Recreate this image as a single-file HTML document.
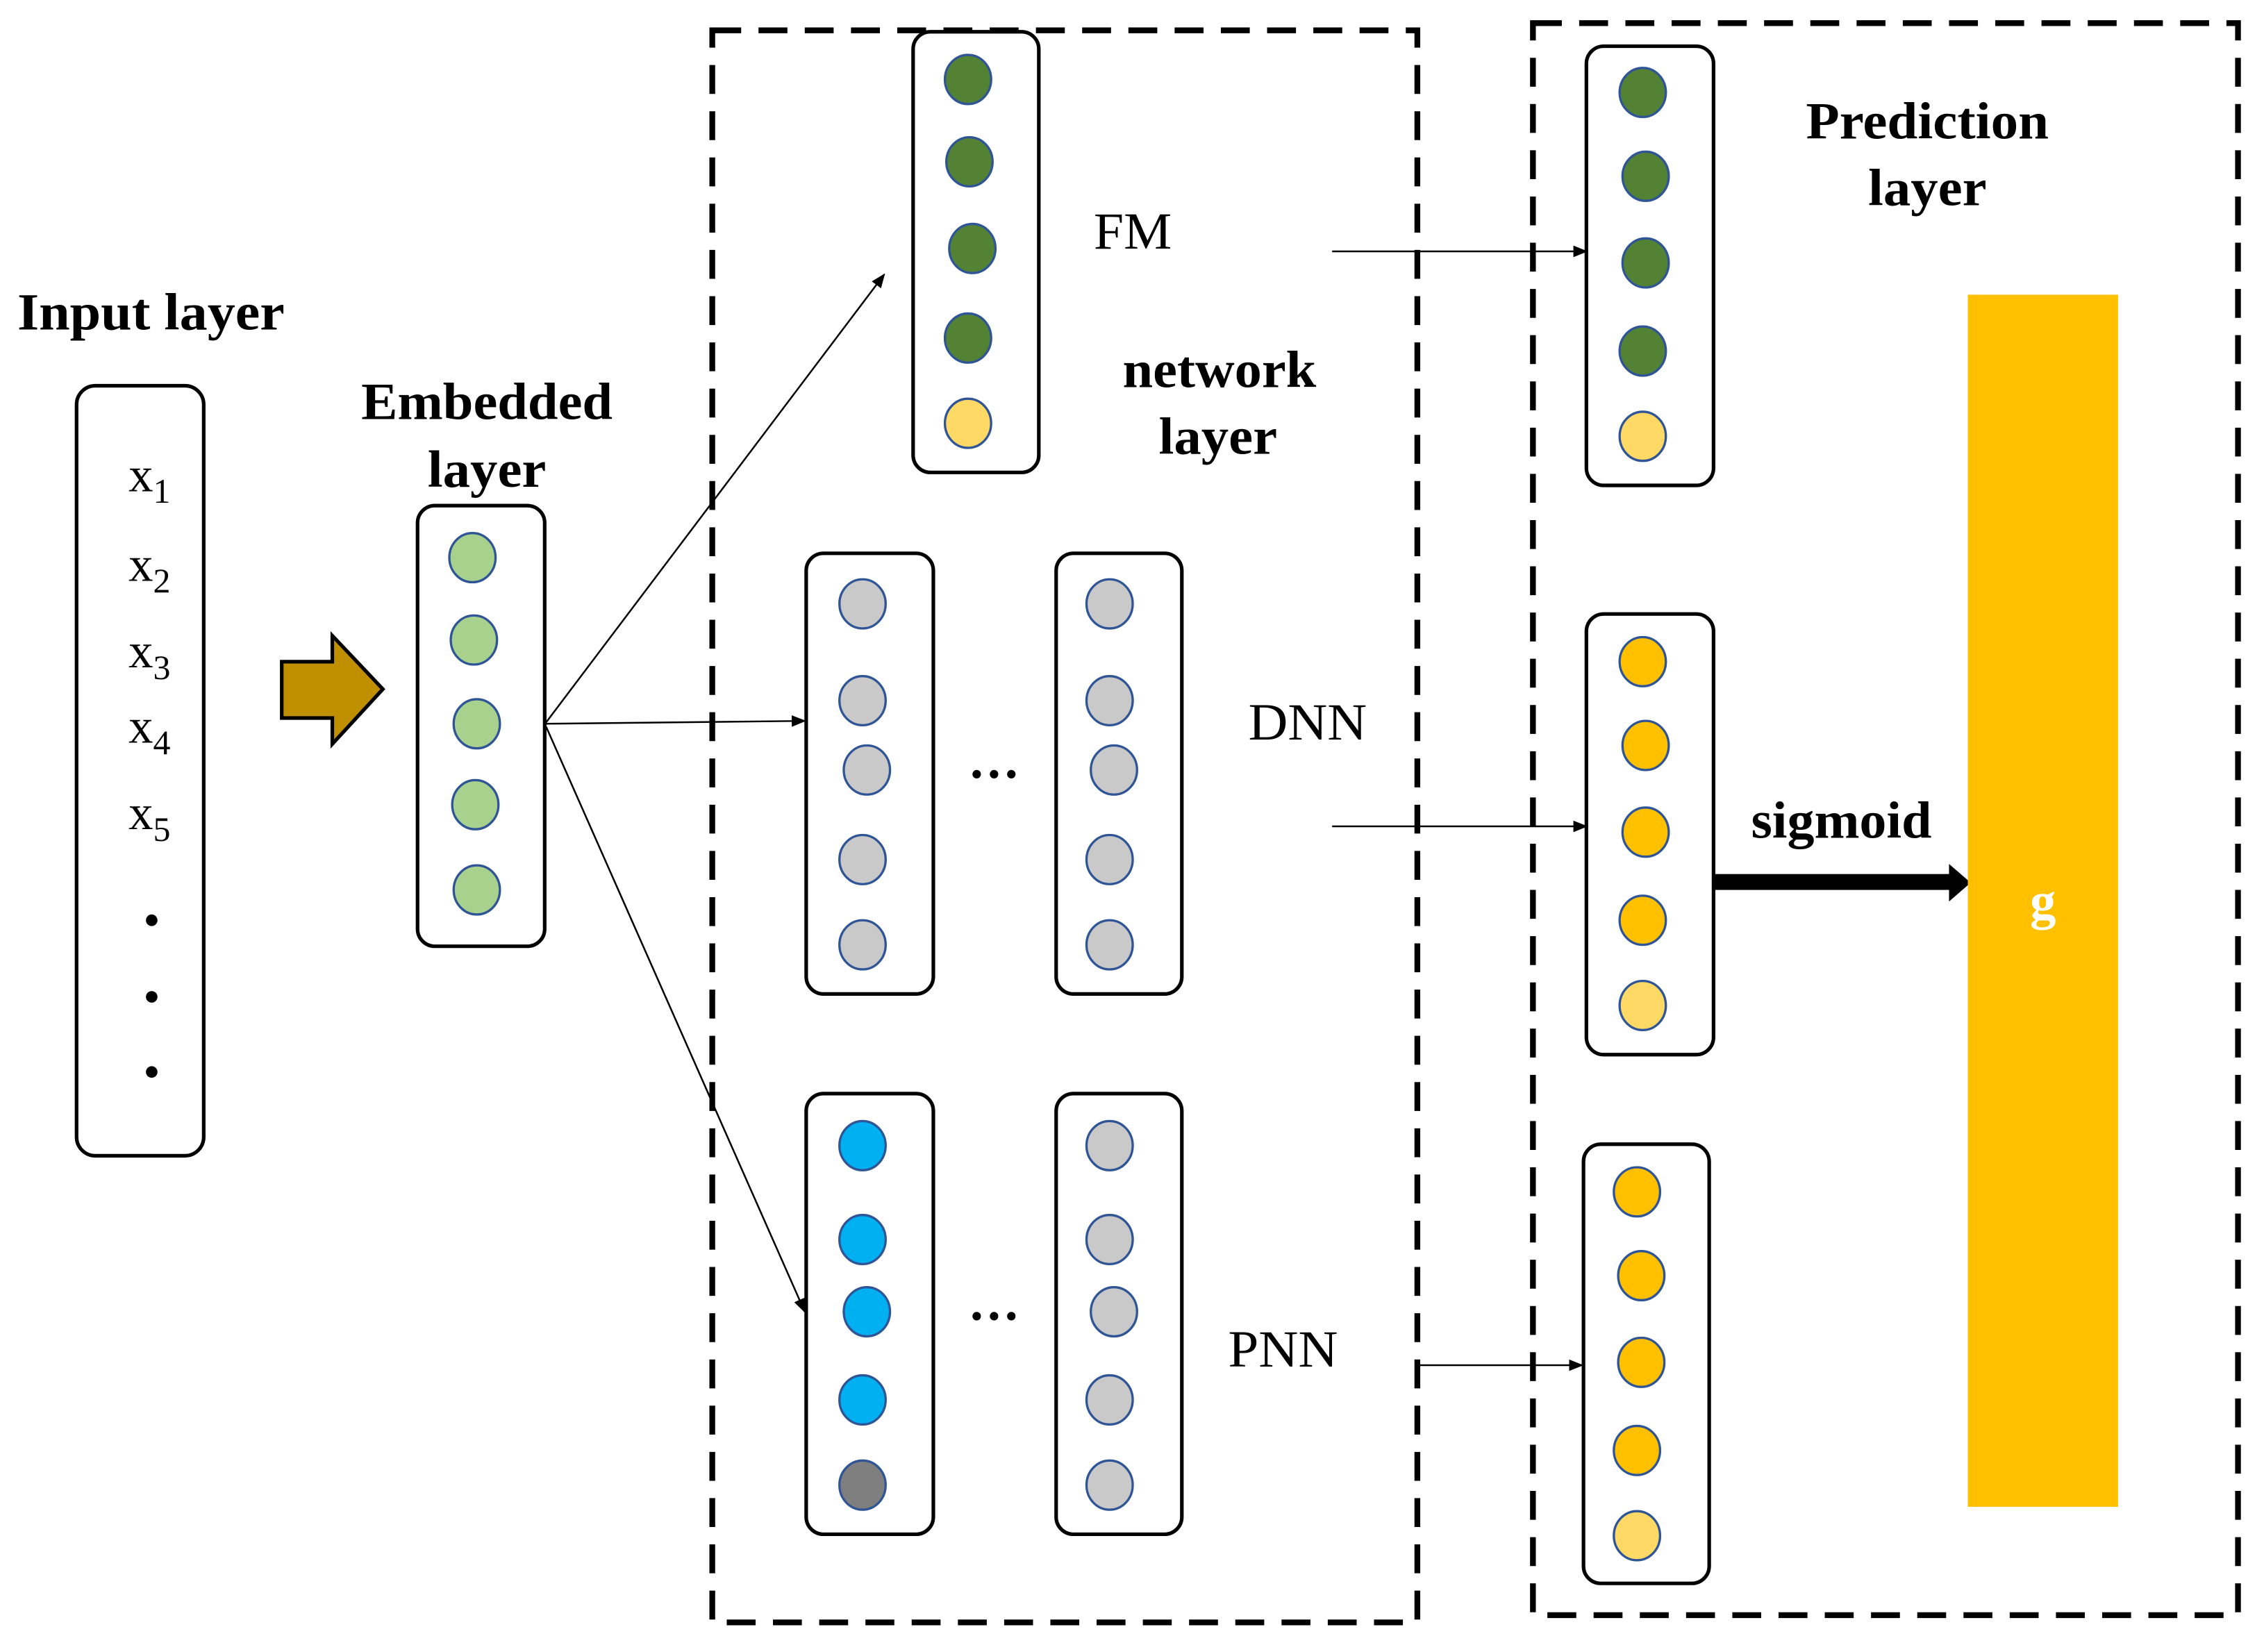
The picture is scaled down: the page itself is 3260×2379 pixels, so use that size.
<!DOCTYPE html>
<html><head><meta charset="utf-8"><style>
html,body{margin:0;padding:0;background:#fff;}
svg{display:block;}
text{font-family:"Liberation Serif",serif;fill:#000;}
.b{font-weight:bold;}
</style></head><body>
<svg width="3260" height="2379" viewBox="0 0 1567 1143.5" preserveAspectRatio="none" xmlns="http://www.w3.org/2000/svg">
<defs>
<marker id="ah" markerWidth="10" markerHeight="8" refX="9" refY="4" orient="auto" markerUnits="userSpaceOnUse"><path d="M0,0 L10,4 L0,8 z" fill="#000"/></marker>
</defs>
<rect width="1567" height="1143.5" fill="#fff"/>
<rect x="493" y="21" width="488" height="1102" fill="none" stroke="#000" stroke-width="4" stroke-dasharray="20,12"/>
<rect x="1061" y="16" width="488" height="1102" fill="none" stroke="#000" stroke-width="4" stroke-dasharray="20,12"/>

<text x="12" y="228" class="b" font-size="36" textLength="185" lengthAdjust="spacingAndGlyphs">Input layer</text>
<rect x="53" y="267" width="88" height="533" rx="13" fill="none" stroke="#000" stroke-width="2.5"/>
<g font-size="34">
<text x="89" y="340">x<tspan font-size="24" dy="8">1</tspan></text>
<text x="89" y="402">x<tspan font-size="24" dy="8">2</tspan></text>
<text x="89" y="462">x<tspan font-size="24" dy="8">3</tspan></text>
<text x="89" y="514">x<tspan font-size="24" dy="8">4</tspan></text>
<text x="89" y="574">x<tspan font-size="24" dy="8">5</tspan></text>
</g>
<circle cx="105" cy="637" r="4" fill="#000"/>
<circle cx="105" cy="690" r="4" fill="#000"/>
<circle cx="105" cy="742" r="4" fill="#000"/>

<path d="M195,458 L230,458 L230,440 L265,477 L230,515 L230,497 L195,497 Z" fill="#BF8F00" stroke="#000" stroke-width="2.5"/>

<text x="337" y="290" class="b" font-size="36" text-anchor="middle" textLength="174" lengthAdjust="spacingAndGlyphs">Embedded</text>
<text x="337" y="337" class="b" font-size="36" text-anchor="middle" textLength="82" lengthAdjust="spacingAndGlyphs">layer</text>
<rect x="289" y="350" width="88" height="305" rx="12" fill="none" stroke="#000" stroke-width="2.5"/>
<g fill="#A9D18E" stroke="#2F5597" stroke-width="1.6">
<ellipse cx="327" cy="386" rx="16" ry="17"/>
<ellipse cx="328" cy="443" rx="16" ry="17"/>
<ellipse cx="330" cy="501" rx="16" ry="17"/>
<ellipse cx="329" cy="557" rx="16" ry="17"/>
<ellipse cx="330" cy="616" rx="16" ry="17"/>
</g>

<g stroke="#000" stroke-width="1.2" fill="none">
<line x1="378" y1="500" x2="612" y2="190" marker-end="url(#ah)"/>
<line x1="378" y1="501" x2="557" y2="499" marker-end="url(#ah)"/>
<line x1="378" y1="503" x2="557" y2="908" marker-end="url(#ah)"/>
<line x1="922" y1="174" x2="1098" y2="174" marker-end="url(#ah)"/>
<line x1="922" y1="572" x2="1098" y2="572" marker-end="url(#ah)"/>
<line x1="981" y1="945" x2="1095" y2="945" marker-end="url(#ah)"/>
</g>

<rect x="632" y="22" width="87" height="305" rx="12" fill="none" stroke="#000" stroke-width="2.5"/>
<g stroke="#2F5597" stroke-width="1.6">
<ellipse cx="670" cy="55" rx="16" ry="17" fill="#548235"/>
<ellipse cx="671" cy="112" rx="16" ry="17" fill="#548235"/>
<ellipse cx="673" cy="172" rx="16" ry="17" fill="#548235"/>
<ellipse cx="670" cy="234" rx="16" ry="17" fill="#548235"/>
<ellipse cx="670" cy="293" rx="16" ry="17" fill="#FFD966"/>
</g>
<text x="757" y="172" font-size="36" textLength="54" lengthAdjust="spacingAndGlyphs">FM</text>
<text x="844" y="268" class="b" font-size="36" text-anchor="middle" textLength="134" lengthAdjust="spacingAndGlyphs">network</text>
<text x="843" y="314" class="b" font-size="36" text-anchor="middle" textLength="82" lengthAdjust="spacingAndGlyphs">layer</text>

<rect x="558" y="383" width="88" height="305" rx="12" fill="none" stroke="#000" stroke-width="2.5"/>
<rect x="731" y="383" width="87" height="305" rx="12" fill="none" stroke="#000" stroke-width="2.5"/>
<g fill="#C9C9C9" stroke="#2F5597" stroke-width="1.6">
<ellipse cx="597" cy="418" rx="16" ry="17"/><ellipse cx="597" cy="485" rx="16" ry="17"/><ellipse cx="600" cy="533" rx="16" ry="17"/><ellipse cx="597" cy="595" rx="16" ry="17"/><ellipse cx="597" cy="654" rx="16" ry="17"/>
<ellipse cx="768" cy="418" rx="16" ry="17"/><ellipse cx="768" cy="485" rx="16" ry="17"/><ellipse cx="771" cy="533" rx="16" ry="17"/><ellipse cx="768" cy="595" rx="16" ry="17"/><ellipse cx="768" cy="654" rx="16" ry="17"/>
</g>
<text x="688" y="548" font-size="36" text-anchor="middle" class="b">···</text>
<text x="864" y="512" font-size="36" textLength="82" lengthAdjust="spacingAndGlyphs">DNN</text>

<rect x="558" y="757" width="88" height="305" rx="12" fill="none" stroke="#000" stroke-width="2.5"/>
<rect x="731" y="757" width="87" height="305" rx="12" fill="none" stroke="#000" stroke-width="2.5"/>
<g stroke="#2F5597" stroke-width="1.6">
<ellipse cx="597" cy="793" rx="16" ry="17" fill="#00B0F0"/><ellipse cx="597" cy="858" rx="16" ry="17" fill="#00B0F0"/><ellipse cx="600" cy="908" rx="16" ry="17" fill="#00B0F0"/><ellipse cx="597" cy="969" rx="16" ry="17" fill="#00B0F0"/><ellipse cx="597" cy="1028" rx="16" ry="17" fill="#7F7F7F"/>
<g fill="#C9C9C9"><ellipse cx="768" cy="793" rx="16" ry="17"/><ellipse cx="768" cy="858" rx="16" ry="17"/><ellipse cx="771" cy="908" rx="16" ry="17"/><ellipse cx="768" cy="969" rx="16" ry="17"/><ellipse cx="768" cy="1028" rx="16" ry="17"/></g>
</g>
<text x="688" y="923" font-size="36" text-anchor="middle" class="b">···</text>
<text x="850" y="946" font-size="36" textLength="76" lengthAdjust="spacingAndGlyphs">PNN</text>

<text x="1334" y="96" class="b" font-size="36" text-anchor="middle" textLength="168" lengthAdjust="spacingAndGlyphs">Prediction</text>
<text x="1334" y="142" class="b" font-size="36" text-anchor="middle" textLength="82" lengthAdjust="spacingAndGlyphs">layer</text>
<rect x="1098" y="32" width="88" height="304" rx="12" fill="none" stroke="#000" stroke-width="2.5"/>
<g stroke="#2F5597" stroke-width="1.6">
<ellipse cx="1137" cy="64" rx="16" ry="17" fill="#548235"/><ellipse cx="1139" cy="122" rx="16" ry="17" fill="#548235"/><ellipse cx="1139" cy="182" rx="16" ry="17" fill="#548235"/><ellipse cx="1137" cy="243" rx="16" ry="17" fill="#548235"/><ellipse cx="1137" cy="302" rx="16" ry="17" fill="#FFD966"/>
</g>
<rect x="1098" y="425" width="88" height="305" rx="12" fill="none" stroke="#000" stroke-width="2.5"/>
<g stroke="#2F5597" stroke-width="1.6">
<ellipse cx="1137" cy="458" rx="16" ry="17" fill="#FFC000"/><ellipse cx="1139" cy="516" rx="16" ry="17" fill="#FFC000"/><ellipse cx="1139" cy="576" rx="16" ry="17" fill="#FFC000"/><ellipse cx="1137" cy="637" rx="16" ry="17" fill="#FFC000"/><ellipse cx="1137" cy="696" rx="16" ry="17" fill="#FFD966"/>
</g>
<rect x="1096" y="792" width="87" height="304" rx="12" fill="none" stroke="#000" stroke-width="2.5"/>
<g stroke="#2F5597" stroke-width="1.6">
<ellipse cx="1133" cy="825" rx="16" ry="17" fill="#FFC000"/><ellipse cx="1136" cy="883" rx="16" ry="17" fill="#FFC000"/><ellipse cx="1136" cy="943" rx="16" ry="17" fill="#FFC000"/><ellipse cx="1133" cy="1004" rx="16" ry="17" fill="#FFC000"/><ellipse cx="1133" cy="1063" rx="16" ry="17" fill="#FFD966"/>
</g>
<text x="1212" y="580" class="b" font-size="36" textLength="125" lengthAdjust="spacingAndGlyphs">sigmoid</text>
<rect x="1186" y="605" width="165" height="11" fill="#000"/>
<path d="M1349,598 L1364,611 L1349,624 Z" fill="#000"/>
<rect x="1362" y="204" width="104" height="839" fill="#FFC000"/>
<text x="1414" y="636" class="b" font-size="36" text-anchor="middle" style="fill:#fff">g</text>
</svg>
</body></html>
